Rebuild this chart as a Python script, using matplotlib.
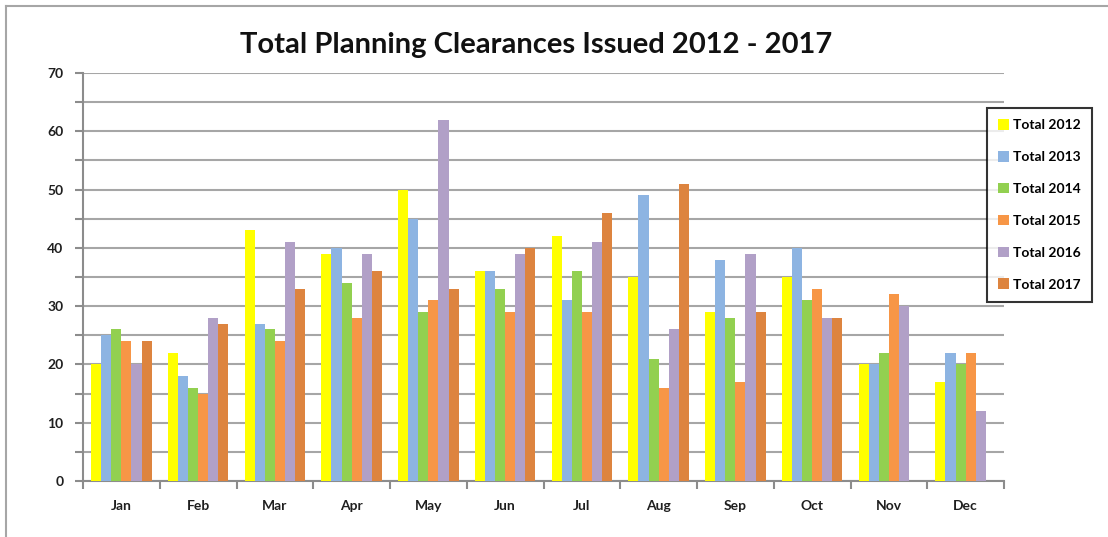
import matplotlib
matplotlib.use("Agg")
import matplotlib.pyplot as plt
import numpy as np
from matplotlib.ticker import MultipleLocator, FixedLocator
from matplotlib.lines import Line2D

months = ["Jan", "Feb", "Mar", "Apr", "May", "Jun", "Jul", "Aug", "Sep", "Oct", "Nov", "Dec"]
series_names = ["Total 2012", "Total 2013", "Total 2014", "Total 2015", "Total 2016", "Total 2017"]
total_2012 = [20, 22, 43, 39, 50, 36, 42, 35, 29, 35, 20, 17]
total_2013 = [25, 18, 27, 40, 45, 36, 31, 49, 38, 40, 20, 22]
total_2014 = [26, 16, 26, 34, 29, 33, 36, 21, 28, 31, 22, 20]
total_2015 = [24, 15, 24, 28, 31, 29, 29, 16, 17, 33, 32, 22]
total_2016 = [20, 28, 41, 39, 62, 39, 41, 26, 39, 28, 30, 12]
total_2017 = [24, 27, 33, 36, 33, 40, 46, 51, 29, 28, 0, 0]
series = [total_2012, total_2013, total_2014, total_2015, total_2016, total_2017]
colors = ["#FFFF00", "#8DB4E2", "#92D050", "#F79646", "#B1A0C7", "#DD843F"]

plt.rcParams["font.family"] = ["Lato", "DejaVu Sans"]

W, H = 1108, 537
fig = plt.figure(figsize=(W / 100, H / 100), dpi=100)
ax = fig.add_axes([83 / W, (H - 481) / H, (1004 - 83) / W, (481 - 73) / H])

n = len(series)
group_w = 0.79
bw = group_w / n
x = np.arange(len(months))
for i, (vals, c, name) in enumerate(zip(series, colors, series_names)):
    ax.bar(x - group_w / 2 + bw * (i + 0.5), vals, width=bw, color=c, label=name, zorder=3)

ax.set_xlim(-0.5, len(months) - 0.5)
ax.set_ylim(0, 70)
ax.yaxis.set_major_locator(MultipleLocator(10))
ax.yaxis.set_minor_locator(MultipleLocator(5))
ax.grid(True, which="both", axis="y", color="#A6A6A6", linewidth=1.5, zorder=0)
ax.set_xticks(x)
ax.set_xticklabels(months)
ax.xaxis.set_minor_locator(FixedLocator(np.arange(-0.5, len(months), 1.0)))
ax.tick_params(axis="x", which="major", length=0, pad=14, labelsize=10)
ax.tick_params(axis="x", which="minor", length=6, width=1.5, color="#8C8C8C", direction="out")
ax.tick_params(axis="y", which="both", length=6, width=1.5, color="#8C8C8C", direction="out", labelsize=10, pad=8)
for lbl in ax.get_xticklabels() + ax.get_yticklabels():
    lbl.set_fontweight("bold")
    lbl.set_color("#1F1F1F")
for s in ["top", "right"]:
    ax.spines[s].set_visible(False)
for s in ["left", "bottom"]:
    ax.spines[s].set_color("#8C8C8C")
    ax.spines[s].set_linewidth(1.5)

fig.text(536 / W, (H - 45) / H, "Total Planning Clearances Issued 2012 - 2017",
         ha="center", va="center", fontsize=21, fontweight="bold", color="#111111")

leg = ax.legend(loc="upper left", bbox_to_anchor=((987 - 83) / (1004 - 83), (481 - 108) / (481 - 73)),
                frameon=True, fancybox=False, edgecolor="black", fontsize=10,
                handlelength=0.8, handleheight=0.8, handletextpad=0.3, labelspacing=1.42,
                borderpad=0.8, borderaxespad=0)
leg.get_frame().set_linewidth(1.5)
for t in leg.get_texts():
    t.set_fontweight("bold")

# outer chart border
fig.add_artist(Line2D([6 / W, 1], [1 - 6 / H, 1 - 6 / H], color="#A6A6A6", linewidth=1.5, transform=fig.transFigure))
fig.add_artist(Line2D([6 / W, 6 / W], [0, 1 - 6 / H], color="#A6A6A6", linewidth=1.5, transform=fig.transFigure))

fig.savefig("out.png", dpi=100)
